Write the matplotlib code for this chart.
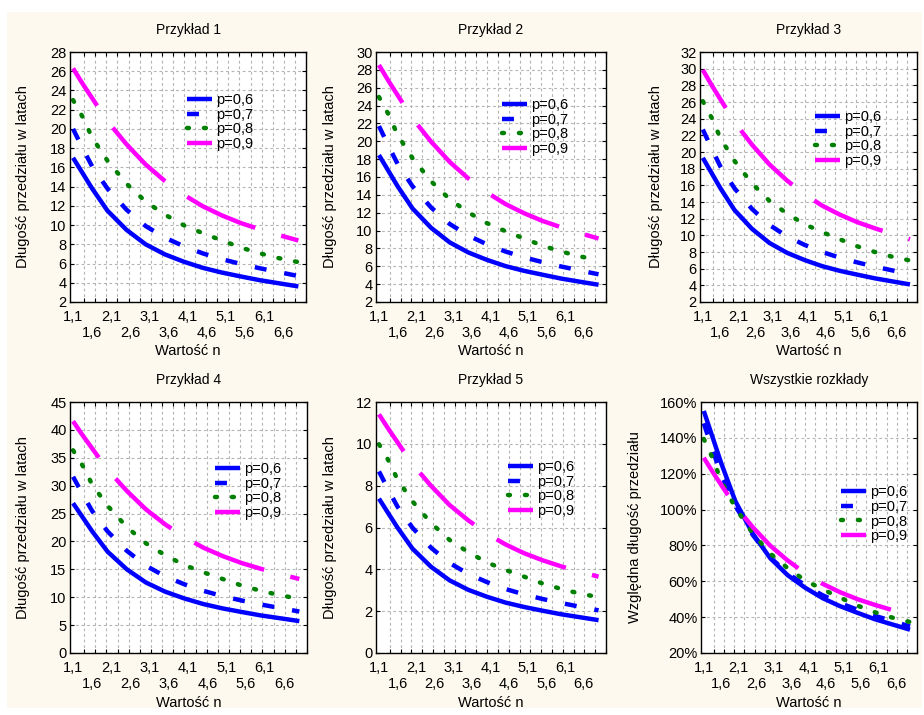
import numpy as np
import matplotlib
matplotlib.use("Agg")
import matplotlib.pyplot as plt
from matplotlib.patches import Rectangle

plt.rcParams['font.family'] = ['Liberation Sans', 'DejaVu Sans']
plt.rcParams['font.size'] = 10
plt.rcParams['lines.scale_dashes'] = False

# wartosci n (os x)
n_vals = [1.1, 1.35, 1.6, 2.0, 2.5, 3.0, 3.5, 4.0, 4.5, 5.0, 5.5, 6.0, 6.5, 7.0]
labels = ['p=0,6', 'p=0,7', 'p=0,8', 'p=0,9']

# Przyklad 1
ex1_p06 = [17.0, 15.4, 13.8, 11.5, 9.5, 8.0, 6.96, 6.19, 5.55, 5.06, 4.65, 4.26, 3.94, 3.62]
ex1_p07 = [20.0, 18.0, 16.1, 13.8, 11.6, 9.9, 8.7, 7.8, 7.05, 6.45, 5.95, 5.5, 5.1, 4.7]
ex1_p08 = [23.0, 21.25, 19.1, 16.7, 14.3, 12.45, 11.1, 9.98, 9.15, 8.4, 7.65, 7.05, 6.55, 6.15]
ex1_p09 = [26.3, 24.7, 23.2, 20.8, 18.4, 16.3, 14.6, 13.15, 11.95, 11.0, 10.2, 9.55, 8.95, 8.4]

# Przyklad 2
ex2_p06 = [18.45, 16.71, 14.97, 12.48, 10.31, 8.68, 7.55, 6.72, 6.02, 5.49, 5.05, 4.62, 4.27, 3.93]
ex2_p07 = [21.7, 19.53, 17.47, 14.97, 12.59, 10.74, 9.44, 8.46, 7.65, 7.0, 6.46, 5.97, 5.53, 5.1]
ex2_p08 = [24.96, 23.06, 20.72, 18.12, 15.52, 13.51, 12.04, 10.83, 9.93, 9.11, 8.3, 7.65, 7.11, 6.67]
ex2_p09 = [28.54, 26.8, 25.17, 22.57, 19.96, 17.69, 15.84, 14.27, 12.97, 11.94, 11.07, 10.36, 9.71, 9.11]

# Przyklad 3
ex3_p06 = [19.3, 17.48, 15.66, 13.05, 10.78, 9.08, 7.9, 7.03, 6.3, 5.74, 5.28, 4.84, 4.47, 4.11]
ex3_p07 = [22.7, 20.43, 18.27, 15.66, 13.17, 11.24, 9.87, 8.85, 8.0, 7.32, 6.75, 6.24, 5.79, 5.33]
ex3_p08 = [26.1, 24.12, 21.68, 18.95, 16.23, 14.13, 12.6, 11.33, 10.39, 9.53, 8.68, 8.0, 7.43, 6.98]
ex3_p09 = [29.85, 28.03, 26.33, 23.61, 20.88, 18.5, 16.57, 14.93, 13.56, 12.49, 11.58, 10.84, 10.16, 9.53]

# Przyklad 4
ex4_p06 = [26.86, 24.33, 21.8, 18.17, 15.01, 12.64, 11.0, 9.78, 8.77, 7.99, 7.35, 6.73, 6.23, 5.72]
ex4_p07 = [31.6, 28.44, 25.44, 21.8, 18.33, 15.64, 13.75, 12.32, 11.14, 10.19, 9.4, 8.69, 8.06, 7.43]
ex4_p08 = [36.34, 33.58, 30.18, 26.39, 22.59, 19.67, 17.54, 15.77, 14.46, 13.27, 12.09, 11.14, 10.35, 9.72]
ex4_p09 = [41.55, 39.03, 36.66, 32.86, 29.07, 25.75, 23.07, 20.78, 18.88, 17.38, 16.12, 15.09, 14.14, 13.27]

# Przyklad 5
ex5_p06 = [7.38, 6.68, 5.99, 4.99, 4.12, 3.47, 3.02, 2.69, 2.41, 2.2, 2.02, 1.85, 1.71, 1.57]
ex5_p07 = [8.68, 7.81, 6.99, 5.99, 5.03, 4.3, 3.78, 3.39, 3.06, 2.8, 2.58, 2.39, 2.21, 2.04]
ex5_p08 = [9.98, 9.22, 8.29, 7.25, 6.21, 5.4, 4.82, 4.33, 3.97, 3.65, 3.32, 3.06, 2.84, 2.67]
ex5_p09 = [11.41, 10.72, 10.07, 9.03, 7.99, 7.07, 6.34, 5.71, 5.19, 4.77, 4.43, 4.14, 3.88, 3.65]

# Wszystkie rozklady (%)
rel_p06 = [155.0, 140.4, 125.8, 104.8, 86.6, 72.9, 63.4, 56.4, 50.6, 46.1, 42.4, 38.8, 35.9, 33.0]
rel_p07 = [148.1, 133.3, 119.3, 102.2, 85.9, 73.3, 64.4, 57.8, 52.2, 47.8, 44.1, 40.7, 37.8, 34.8]
rel_p08 = [139.4, 128.8, 115.8, 101.2, 86.7, 75.5, 67.3, 60.5, 55.5, 50.9, 46.4, 42.7, 39.7, 37.3]
rel_p09 = [128.9, 121.1, 113.7, 102.0, 90.2, 79.9, 71.6, 64.5, 58.6, 53.9, 50.0, 46.8, 43.9, 41.2]

# etykiety osi x w dwoch rzedach
x_row1 = [1.1, 2.1, 3.1, 4.1, 5.1, 6.1]
x_row2 = [1.6, 2.6, 3.6, 4.6, 5.6, 6.6]

ylab = 'Długość przedziału w latach'
panels = [
    # title, series, ylim, ystep, ylabel, ylabel x, legend pos, axes rect (px), percent
    ('Przykład 1', [ex1_p06, ex1_p07, ex1_p08, ex1_p09], (2, 28), 2, ylab, -0.169, (0.496, 0.836), (70, 52, 306, 302), False),
    ('Przykład 2', [ex2_p06, ex2_p07, ex2_p08, ex2_p09], (2, 30), 2, ylab, -0.17, (0.548, 0.816), (376, 52, 606, 302), False),
    ('Przykład 3', [ex3_p06, ex3_p07, ex3_p08, ex3_p09], (2, 32), 2, ylab, -0.17, (0.53, 0.768), (700, 52, 917, 302), False),
    ('Przykład 4', [ex4_p06, ex4_p07, ex4_p08, ex4_p09], (0, 45), 5, ylab, -0.169, (0.612, 0.761), (70, 402, 307, 653), False),
    ('Przykład 5', [ex5_p06, ex5_p07, ex5_p08, ex5_p09], (0, 12), 2, ylab, -0.17, (0.574, 0.769), (376, 402, 606, 653), False),
    ('Wszystkie rozkłady', [rel_p06, rel_p07, rel_p08, rel_p09], (20, 160), 20,
     'Względna długość przedziału', -0.273, (0.648, 0.669), (701, 402, 917, 653), True),
]

colors = ['#0000FF', '#0000FF', '#008000', '#FF00FF']
styles = ['-', (0, (8.6, 13.0)), (0, (1.4, 10.8)), (22.0, (54.0, 19.5))]
caps = ['round', 'butt', 'round', 'butt']


def fmt(v):
    return f'{v:.1f}'.replace('.', ',')


W, H = 924, 715
fig = plt.figure(figsize=(W / 100, H / 100), dpi=100)
bg = Rectangle((7 / W, 1 - 708 / H), 915 / W, 696 / H, transform=fig.transFigure,
               facecolor='#FDF9EE', edgecolor='none', zorder=-10)
fig.add_artist(bg)

for title, series, ylim, ystep, ylabel, ylx, legpos, rect, pct in panels:
    x0, y0, x1, y1 = rect
    ax = fig.add_axes([x0 / W, 1 - y1 / H, (x1 - x0) / W, (y1 - y0) / H])
    ax.set_facecolor('white')

    handles = []
    for vals, c, ls, cap in zip(series, colors, styles, caps):
        ln, = ax.plot(n_vals, vals, color=c, lw=3.2, ls=ls,
                      dash_capstyle=cap, solid_capstyle='butt')
        handles.append(ln)

    ax.set_xlim(1.02, 7.2)
    ax.set_ylim(*ylim)
    yt = np.arange(ylim[0], ylim[1] + 0.01, ystep)
    ax.set_yticks(yt)
    if pct:
        ax.set_yticklabels([f'{int(v)}%' for v in yt])

    ax.set_xticks(x_row1)
    ax.set_xticklabels([fmt(v) for v in x_row1])
    ax.set_xticks(np.linspace(1.1, 7.2, 22), minor=True)
    # drugi rzad etykiet (przesuniety w dol)
    for v in x_row2:
        ax.text(v, -31 / (y1 - y0), fmt(v), transform=ax.get_xaxis_transform(),
                ha='center', va='center', fontsize=10.5)

    ax.tick_params(axis='x', which='major', length=0, pad=5.5, labelsize=10.5)
    ax.tick_params(axis='x', which='minor', direction='in', length=3,
                   top=True, bottom=True, width=0.8)
    ax.tick_params(axis='y', which='major', direction='in', length=3,
                   left=True, right=True, pad=2.5, labelsize=10.5, width=0.8)

    ax.grid(which='minor', axis='x', color='#b4b4b4', lw=0.8, ls=(0, (2, 2)))
    ax.grid(which='major', axis='y', color='#b4b4b4', lw=0.8, ls=(0, (2, 2)))
    ax.set_axisbelow(True)
    for sp in ax.spines.values():
        sp.set_linewidth(1.0)
        sp.set_color('black')

    ax.set_title(title, fontsize=10, pad=13)
    ax.set_ylabel(ylabel, fontsize=10.5)
    ax.yaxis.set_label_coords(ylx, 0.5)
    ax.set_xlabel('Wartość n', fontsize=10.5)
    ax.xaxis.set_label_coords(0.5, -0.17)

    ax.legend(handles, labels, loc='upper left', bbox_to_anchor=legpos,
              frameon=False, borderpad=0, borderaxespad=0, handlelength=1.7,
              handletextpad=0.3, labelspacing=0.05, fontsize=10.5)

fig.savefig('out.png', dpi=100)
